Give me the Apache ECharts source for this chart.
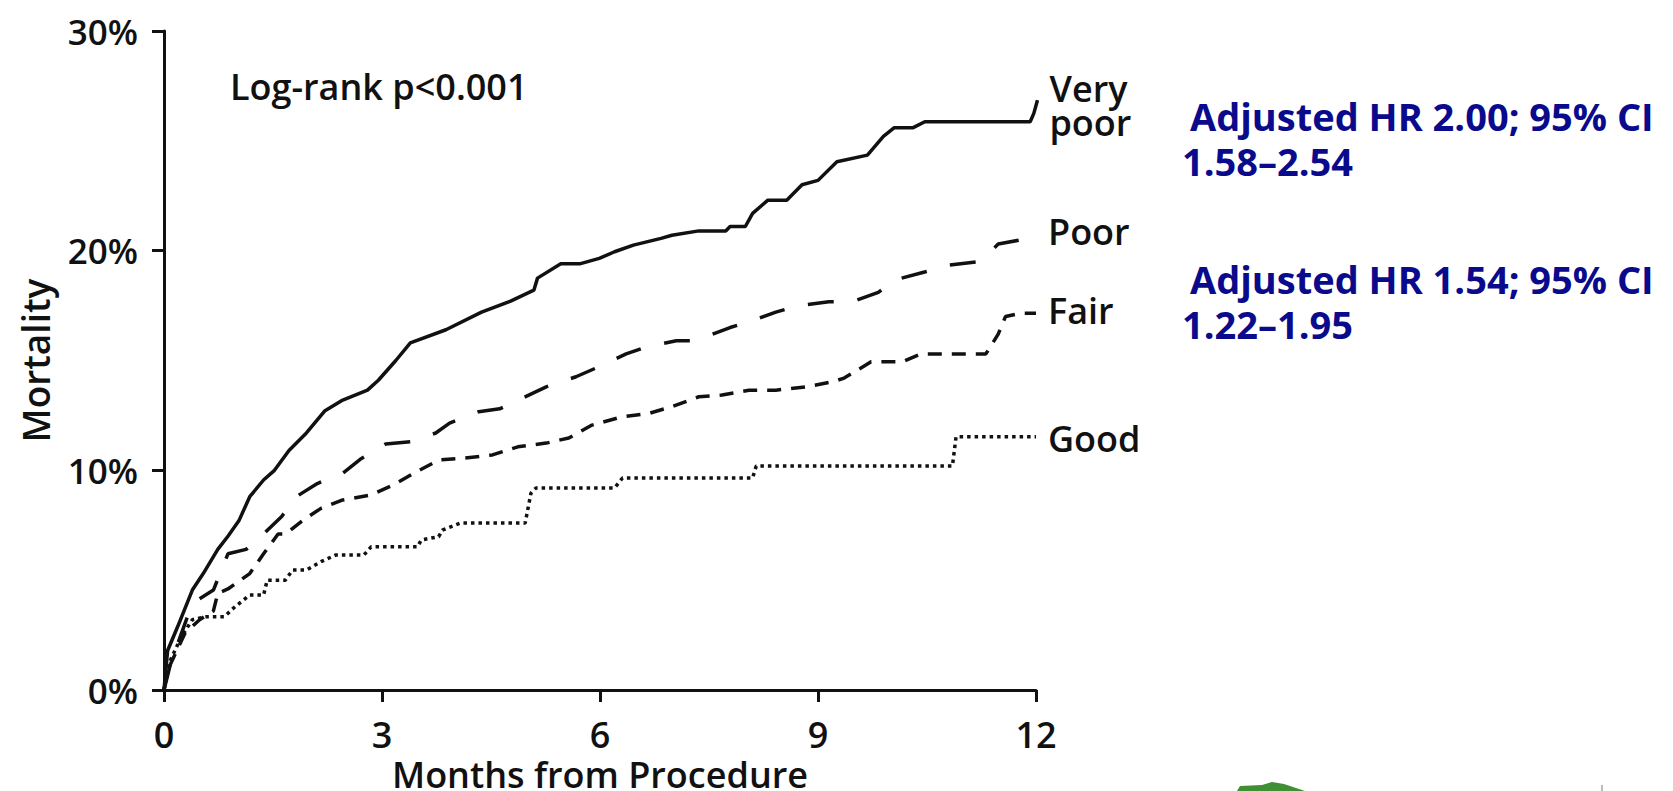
<!DOCTYPE html>
<html>
<head>
<meta charset="utf-8">
<script src="https://cdn.jsdelivr.net/npm/echarts@6/dist/echarts.min.js"></script>
<style>
  html, body { margin: 0; padding: 0; background: #ffffff; }
  #chart { width: 1673px; height: 791px; }
</style>
</head>
<body>
<div id="chart"></div>
<script>
// ---- Data ----
const xTicks = [0, 3, 6, 9, 12];
const yTicks = [0, 10, 20, 30];

const veryPoorMonths = [0, 0.05, 0.19, 0.39, 0.54, 0.74, 0.88, 1.03, 1.18, 1.37, 1.52, 1.72, 1.96, 2.21, 2.46, 2.8, 2.95, 3.19, 3.39, 3.88, 4.37, 4.77, 5.09, 5.14, 5.46, 5.72, 5.99, 6.2, 6.46, 6.84, 6.99, 7.36, 7.73, 7.79, 8.0, 8.1, 8.31, 8.57, 8.78, 9.0, 9.26, 9.68, 9.9, 10.05, 10.31, 10.47, 11.92, 11.97, 12.02];
const veryPoorValues = [0, 1.8, 2.9, 4.55, 5.3, 6.4, 7.0, 7.7, 8.8, 9.56, 10.0, 10.9, 11.7, 12.7, 13.2, 13.65, 14.1, 15.0, 15.8, 16.4, 17.2, 17.7, 18.2, 18.75, 19.4, 19.4, 19.65, 19.95, 20.25, 20.56, 20.7, 20.9, 20.9, 21.1, 21.1, 21.7, 22.3, 22.3, 23.0, 23.2, 24.05, 24.35, 25.2, 25.6, 25.6, 25.87, 25.87, 26.25, 26.85];

const poorMonths = [0, 0.09, 0.39, 0.68, 0.88, 1.13, 1.37, 1.62, 1.82, 2.11, 2.46, 2.7, 3.05, 3.39, 3.74, 3.93, 4.33, 4.62, 5.07, 5.26, 5.67, 5.94, 6.36, 6.62, 7.05, 7.31, 7.79, 8.05, 8.42, 8.73, 9.15, 9.47, 9.83, 10.05, 10.48, 10.79, 11.2, 11.29, 11.48, 11.9, 12.0];
const poorValues = [0, 1.2, 3.95, 4.55, 6.2, 6.4, 7.1, 7.9, 8.8, 9.4, 9.87, 10.5, 11.2, 11.3, 11.7, 12.15, 12.67, 12.8, 13.5, 13.8, 14.26, 14.65, 15.3, 15.6, 15.9, 15.9, 16.5, 16.76, 17.2, 17.5, 17.67, 17.67, 18.1, 18.66, 19.04, 19.34, 19.5, 19.7, 20.3, 20.56, 20.6];

const fairMonths = [0, 0.05, 0.29, 0.49, 0.68, 0.74, 0.88, 1.18, 1.37, 1.57, 1.67, 1.92, 2.16, 2.46, 2.85, 3.15, 3.44, 3.78, 4.13, 4.52, 4.87, 5.26, 5.57, 5.89, 6.31, 6.68, 6.99, 7.36, 7.68, 8.05, 8.42, 8.84, 9.2, 9.36, 9.73, 10.16, 10.42, 11.31, 11.48, 11.58, 11.79, 12.0];
const fairValues = [0, 0.9, 2.6, 3.2, 3.6, 4.4, 4.6, 5.3, 6.2, 7.1, 7.1, 7.74, 8.27, 8.65, 8.88, 9.33, 9.87, 10.47, 10.56, 10.7, 11.07, 11.24, 11.47, 12.06, 12.44, 12.6, 12.9, 13.35, 13.43, 13.65, 13.65, 13.8, 14.03, 14.2, 14.94, 14.94, 15.3, 15.3, 16.2, 17.0, 17.15, 17.15];

const goodMonths = [0, 0.02, 0.09, 0.24, 0.39, 0.59, 0.83, 0.98, 1.18, 1.37, 1.42, 1.67, 1.77, 1.96, 2.16, 2.36, 2.75, 2.85, 3.49, 3.54, 3.78, 3.83, 4.08, 4.97, 5.05, 5.12, 6.2, 6.31, 8.1, 8.15, 10.85, 10.9, 12.0];
const goodValues = [0, 0.45, 1.37, 2.43, 3.2, 3.34, 3.34, 3.8, 4.32, 4.32, 5.0, 5.0, 5.46, 5.46, 5.84, 6.14, 6.14, 6.52, 6.52, 6.83, 6.98, 7.28, 7.6, 7.6, 8.96, 9.2, 9.2, 9.65, 9.65, 10.2, 10.2, 11.53, 11.53];

const seriesNames = ['Very\npoor', 'Poor', 'Fair', 'Good'];
const pValueText = 'Log-rank p<0.001';
const hr1Lines = ['Adjusted HR 2.00; 95% CI', '1.58–2.54'];
const hr2Lines = ['Adjusted HR 1.54; 95% CI', '1.22–1.95'];

// ---- Build ----
function zip(ms, vs) { return ms.map((m, i) => [m, vs[i]]); }

const FONT = '"Open Sans", "Noto Sans", sans-serif';
const INK = '#111111';
const BLUE = '#0a0a8c';
const W = 600;

function lineSeries(name, data, dash, labelOffset) {
  return {
    type: 'line',
    name: name,
    data: data,
    showSymbol: false,
    symbol: 'none',
    clip: false,
    lineStyle: { color: INK, width: 3.5, type: dash, cap: 'butt' },
    endLabel: {
      show: true,
      formatter: name,
      color: INK,
      fontFamily: FONT,
      fontWeight: W,
      fontSize: 36,
      lineHeight: 34,
      distance: 12,
      offset: labelOffset,
      align: 'left'
    },
    emphasis: { disabled: true },
    silent: true
  };
}

const chart = echarts.init(document.getElementById('chart'), null, { renderer: 'svg' });

const option = {
  animation: false,
  backgroundColor: '#ffffff',
  grid: { left: 164, right: 637, top: 31, bottom: 101, containLabel: false, outerBoundsMode: 'none' },
  xAxis: {
    type: 'value',
    min: xTicks[0],
    max: xTicks[xTicks.length - 1],
    interval: 3,
    name: 'Months from Procedure',
    nameLocation: 'middle',
    nameGap: 61,
    nameTextStyle: { color: INK, fontFamily: FONT, fontWeight: W, fontSize: 36, lineHeight: 36 },
    axisLine: { show: true, lineStyle: { color: INK, width: 3 } },
    axisTick: { show: true, length: 12, lineStyle: { color: INK, width: 3 } },
    axisLabel: { color: INK, fontFamily: FONT, fontWeight: W, fontSize: 36, lineHeight: 36, margin: 26 },
    splitLine: { show: false }
  },
  yAxis: {
    type: 'value',
    min: yTicks[0],
    max: yTicks[yTicks.length - 1],
    interval: 10,
    name: 'Mortality',
    nameLocation: 'middle',
    nameRotate: 90,
    nameGap: 110,
    nameTextStyle: { color: INK, fontFamily: FONT, fontWeight: W, fontSize: 37 },
    axisLine: { show: true, lineStyle: { color: INK, width: 3 } },
    axisTick: { show: true, length: 12, lineStyle: { color: INK, width: 3 } },
    axisLabel: { color: INK, fontFamily: FONT, fontWeight: W, fontSize: 35, margin: 26, formatter: '{value}%' },
    splitLine: { show: false }
  },
  series: [
    lineSeries(seriesNames[0], zip(veryPoorMonths, veryPoorValues), 'solid', [0, 5]),
    lineSeries(seriesNames[1], zip(poorMonths, poorValues), [26, 24], [0, -6]),
    lineSeries(seriesNames[2], zip(fairMonths, fairValues), [14, 10], [0, -3]),
    lineSeries(seriesNames[3], zip(goodMonths, goodValues), [3.5, 4], [0, 2])
  ],
  graphic: [
    { type: 'text', left: 230, top: 68, style: { text: pValueText, fill: INK, font: W + ' 36px ' + FONT, lineHeight: 36 } },
    { type: 'text', left: 1190, top: 97, style: { text: hr1Lines[0], fill: BLUE, font: 'bold 38px ' + FONT, lineHeight: 36 } },
    { type: 'text', left: 1182, top: 142, style: { text: hr1Lines[1], fill: BLUE, font: 'bold 38px ' + FONT, lineHeight: 36 } },
    { type: 'text', left: 1190, top: 260, style: { text: hr2Lines[0], fill: BLUE, font: 'bold 38px ' + FONT, lineHeight: 36 } },
    { type: 'text', left: 1182, top: 305, style: { text: hr2Lines[1], fill: BLUE, font: 'bold 38px ' + FONT, lineHeight: 36 } },
    { type: 'polygon', shape: { points: [[1237, 791], [1240, 786], [1262, 785], [1272, 782], [1284, 784], [1305, 791]] }, style: { fill: '#3f8f35' } },
    { type: 'line', shape: { x1: 1602, y1: 785, x2: 1602, y2: 791 }, style: { stroke: '#777777', lineWidth: 1 } }
  ]
};

chart.setOption(option);
</script>
</body>
</html>
